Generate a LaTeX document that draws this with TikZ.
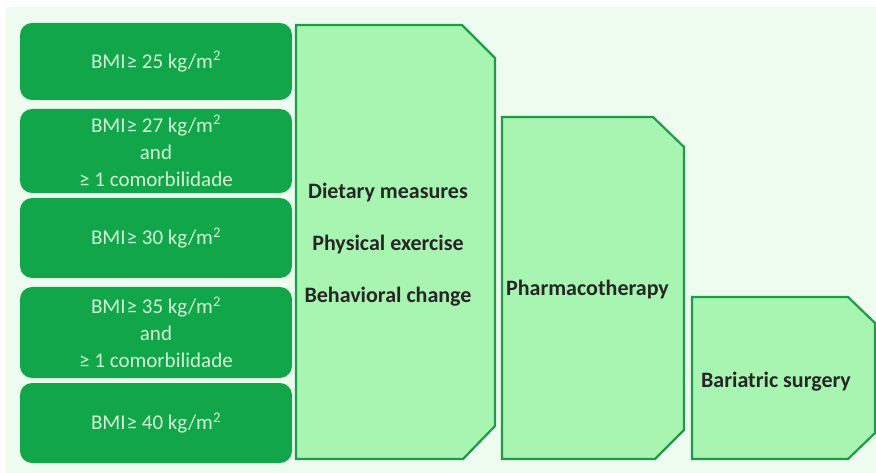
\documentclass[tikz,border=0pt]{standalone}
\usepackage{fontspec}
\setmainfont{Carlito}
\definecolor{bmigreen}{RGB}{18, 166, 74}
\definecolor{bmitext}{RGB}{210, 244, 212}
\definecolor{stagefill}{RGB}{168, 245, 178}
\definecolor{stageline}{RGB}{30, 154, 74}
\definecolor{pagebg}{RGB}{238, 252, 240}
\begin{document}
\begin{tikzpicture}[x=1pt, y=-1pt,
    bmi/.style={fill=bmigreen, rounded corners=12pt, minimum width=272pt,
                inner sep=0pt, align=center, text=bmitext,
                font=\fontsize{21}{27}\selectfont},
    stage/.style={draw=stageline, line width=2.2pt, fill=stagefill},
    stagetxt/.style={align=center, text=black!85,
                font=\fontsize{22}{52}\selectfont\bfseries}
  ]
    \useasboundingbox (0,0) rectangle (876,473);
    \fill[pagebg] (6,7) rectangle (876,473);

    % BMI criteria
    \node[bmi, minimum height=77pt] (b25) at (156, 61.5) {BMI\kern1pt≥ 25 kg/m\textsuperscript{2}};
    \node[bmi, minimum height=84pt] (b27) at (156, 151) {BMI\kern1pt≥ 27 kg/m\textsuperscript{2}\\and\\≥ 1 comorbilidade};
    \node[bmi, minimum height=80pt] (b30) at (156, 238) {BMI\kern1pt≥ 30 kg/m\textsuperscript{2}};
    \node[bmi, minimum height=91pt] (b35) at (156, 332.5) {BMI\kern1pt≥ 35 kg/m\textsuperscript{2}\\and\\≥ 1 comorbilidade};
    \node[bmi, minimum height=80pt] (b40) at (156, 423) {BMI\kern1pt≥ 40 kg/m\textsuperscript{2}};

    % treatment steps
    \draw[stage] (296,25) -- (462,25) -- (495,58) -- (495,426) -- (463,459) -- (296,459) -- cycle;
    \draw[stage] (502,117) -- (653,117) -- (684,147) -- (684,430) -- (655,459) -- (502,459) -- cycle;
    \draw[stage] (692,297) -- (848,297) -- (875,323) -- (875,433) -- (848,459) -- (692,459) -- cycle;

    \node[stagetxt] (life) at (388, 245) {Dietary measures\\Physical exercise\\Behavioral change};
    \node[stagetxt] (pharma) at (587.5, 290) {Pharmacotherapy};
    \node[stagetxt] (surgery) at (776, 382) {Bariatric surgery};
\end{tikzpicture}
\end{document}
